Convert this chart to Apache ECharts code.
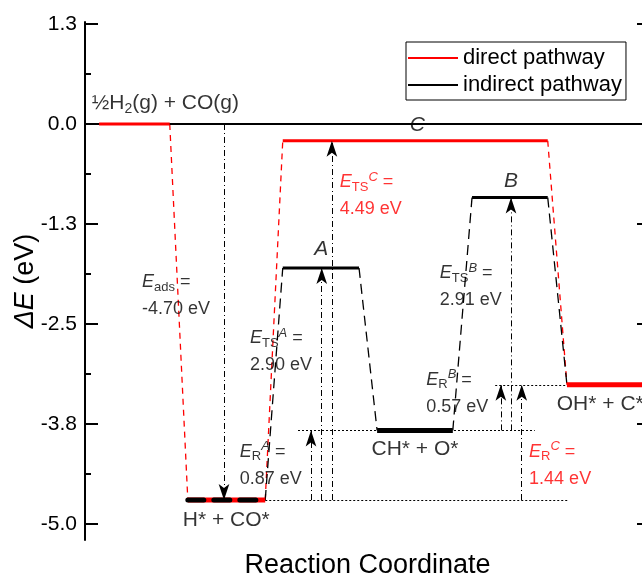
<!DOCTYPE html>
<html>
<head>
<meta charset="utf-8">
<script src="https://cdn.jsdelivr.net/npm/echarts@6/dist/echarts.min.js"></script>
<style>
  html, body { margin: 0; padding: 0; background: #fff; }
  #main { width: 642px; height: 576px; }
</style>
</head>
<body>
<div id="main"></div>
<script>
// energy levels (eV) and their extent along the reaction coordinate
const levelEnergy = [0.0, -4.70, -1.80, -3.83, -0.92, -0.21, -3.26];
const levelStart = [0.25, 1.82, 3.50, 5.17, 6.85, 3.50, 8.53];
const levelEnd = [1.50, 3.19, 4.85, 6.51, 8.19, 8.19, 10.0];
const stateText = ['{n|½H}{s|2}{n|(g) + CO(g)}', 'H* + CO*', '{i|A}', 'CH* + O*', '{i|B}', '{i|C}', 'OH* + C*'];
const directPath = [0, 1, 5, 6];
const indirectPath = [1, 2, 3, 4, 6];

// energy differences, drawn as arrows between two levels
const barrierSub = ['ads', 'TS', 'R', 'TS', 'TS', 'R', 'R'];
const barrierSup = ['', 'A', 'A', 'C', 'B', 'B', 'C'];
const barrierValues = [-4.70, 2.90, 0.87, 4.49, 2.91, 0.57, 1.44];
const barrierFrom = [0, 1, 1, 1, 3, 3, 1];
const barrierTo = [1, 2, 3, 5, 4, 6, 6];
const barrierX = [2.46, 4.19, 4.00, 4.37, 7.54, 7.36, 7.73];

// dotted guide lines: level index and extent
const guideLevel = [0, 1, 3, 6];
const guideFrom = [1.50, 3.19, 3.77, 7.26];
const guideTo = [2.74, 8.55, 7.96, 8.53];

// y axis ticks
const yTicks = [-5.0, -3.75, -2.5, -1.25, 0, 1.25];
const yMinorTicks = [-4.375, -3.125, -1.875, -0.625, 0.625];

const RED = '#ff0000';
const FONT = 'Liberation Sans, Arial, sans-serif';

// where the text sits (reaction coordinate, eV)
const statePos = [[0.12, 0.26], [2.50, -4.95], [4.18, -1.56], [5.84, -4.06], [7.54, -0.71], [5.88, -0.01], [8.35, -3.50]];
const barrierPos = [[1.01, -2.17], [2.92, -2.87], [2.74, -4.29], [4.51, -0.92], [6.28, -2.06], [6.04, -3.39], [7.86, -4.29]];
const barrierRed = [false, false, false, true, false, false, true];

function richFor(color) {
  return {
    e: { fontStyle: 'italic', fontSize: 18, lineHeight: 23, color: color, fontFamily: FONT },
    b: { fontSize: 13, lineHeight: 14, verticalAlign: 'bottom', color: color, fontFamily: FONT },
    p: { fontSize: 13, lineHeight: 14, verticalAlign: 'top', fontStyle: 'italic', color: color, fontFamily: FONT },
    q: { fontSize: 18, lineHeight: 23, color: color, fontFamily: FONT },
    n2: { fontSize: 18, lineHeight: 31, color: color, fontFamily: FONT }
  };
}

const chart = echarts.init(document.getElementById('main'));
const series = [];

// legend entries
series.push({ name: 'direct pathway', type: 'line', data: [], color: RED, symbol: 'none' });
series.push({ name: 'indirect pathway', type: 'line', data: [], color: '#000', symbol: 'none' });

function seg(data, color, width, type, cap) {
  series.push({
    type: 'line', data: data, symbol: 'none', silent: true, z: 3,
    lineStyle: { color: color, width: width, type: type || 'solid', cap: cap || 'butt' }
  });
}

// connectors between levels
function connect(path, color, dash) {
  for (let k = 0; k < path.length - 1; k++) {
    const a = path[k], b = path[k + 1];
    seg([[levelEnd[a], levelEnergy[a]], [levelStart[b], levelEnergy[b]]], color, 1.3, dash);
  }
}
connect(directPath, RED, [6, 5]);
connect(indirectPath, '#000', [10, 6]);

// levels
const levelWidth = [3, 5, 3, 5, 3, 3, 5];
levelEnergy.forEach(function (e, i) {
  const isDirect = directPath.indexOf(i) >= 0;
  const isIndirect = indirectPath.indexOf(i) >= 0;
  const data = [[levelStart[i], e], [levelEnd[i], e]];
  if (isDirect) seg(data, RED, levelWidth[i]);
  if (isIndirect && !isDirect) seg(data, '#000', levelWidth[i]);
  if (isIndirect && isDirect && i === 1) {
    seg(data, '#000', levelWidth[i], [16, 10], 'round');
    series[series.length - 1].z = 4;
  }
});

// guide lines and arrows
series.push({
  type: 'line', data: [], silent: true,
  markLine: {
    silent: true, animation: false, symbol: ['none', 'none'],
    label: { show: false },
    lineStyle: { color: '#000', width: 1, type: [2, 2] },
    data: guideLevel.map(function (l, i) {
      return [{ coord: [guideFrom[i], levelEnergy[l]] }, { coord: [guideTo[i], levelEnergy[l]] }];
    })
  }
});
series.push({
  type: 'line', data: [], silent: true,
  markLine: {
    silent: true, animation: false, symbol: ['none', 'arrow'], symbolSize: [8, 16],
    label: { show: false },
    lineStyle: { color: '#000', width: 1, type: [6, 3, 1, 3] },
    data: barrierX.map(function (x, i) {
      return [{ coord: [x, levelEnergy[barrierFrom[i]]] }, { coord: [x, levelEnergy[barrierTo[i]]] }];
    })
  }
});

// state labels
series.push({
  type: 'scatter', symbolSize: 0, silent: true, z: 10,
  data: stateText.map(function (t, i) {
    return {
      value: statePos[i],
      label: {
        show: true, formatter: t,
        position: (i === 0 || i === 6) ? 'right' : 'inside',
        distance: 0, color: '#000', fontSize: 21, fontFamily: FONT,
        rich: {
          n: { fontSize: 21, lineHeight: 26, fontFamily: FONT, color: '#000' },
          s: { fontSize: 14, lineHeight: 15, verticalAlign: 'bottom', fontFamily: FONT, color: '#000' },
          i: { fontSize: 21, fontStyle: 'italic', fontFamily: FONT, color: '#000' }
        }
      }
    };
  })
});

// barrier labels
series.push({
  type: 'scatter', symbolSize: 0, silent: true, z: 10,
  data: barrierValues.map(function (v, i) {
    const color = barrierRed[i] ? RED : '#000';
    let t = '{e|E}{b|' + barrierSub[i] + '}';
    if (barrierSup[i]) t += '{p|' + barrierSup[i] + '}';
    t += '{q| =}\n{n2|' + v.toFixed(2) + ' eV}';
    return {
      value: barrierPos[i],
      label: {
        show: true, formatter: t, position: 'right', distance: 0,
        color: color, fontFamily: FONT, rich: richFor(color)
      }
    };
  })
});

const axisLine = { show: true, lineStyle: { color: '#000', width: 2 } };

chart.setOption({
  animation: false,
  backgroundColor: '#fff',
  textStyle: { fontFamily: FONT },
  grid: { left: 85, top: 22, width: 565, height: 518, containLabel: false, outerBoundsMode: 'none' },
  legend: {
    data: ['direct pathway', 'indirect pathway'],
    orient: 'vertical', left: 406, top: 42,
    icon: 'rect', itemWidth: 50, itemHeight: 2, itemGap: 5,
    padding: [5, 4, 4, 2],
    borderColor: '#000', borderWidth: 1,
    selectedMode: false,
    textStyle: { fontSize: 22, color: '#000', fontFamily: FONT }
  },
  xAxis: [{
    type: 'value', min: 0, max: 10, position: 'bottom',
    name: 'Reaction Coordinate', nameLocation: 'middle', nameGap: 12, nameMoveOverlap: false,
    nameTextStyle: { fontSize: 27, color: '#000', fontFamily: FONT },
    axisLine: axisLine, axisTick: { show: false }, axisLabel: { show: false }, splitLine: { show: false }
  }, {
    type: 'value', min: 0, max: 10, position: 'top',
    axisLine: axisLine, axisTick: { show: false }, axisLabel: { show: false }, splitLine: { show: false }
  }],
  yAxis: [{
    type: 'value', min: -5.2, max: 1.275, position: 'left',
    name: '{i|ΔE} (eV)', nameLocation: 'middle', nameGap: 46, nameMoveOverlap: false,
    nameTextStyle: {
      fontSize: 27, color: '#000', fontFamily: FONT,
      rich: { i: { fontSize: 27, fontStyle: 'italic', color: '#000', fontFamily: FONT } }
    },
    axisLine: axisLine,
    axisTick: { show: true, inside: true, length: 13, lineStyle: { width: 2, color: '#000' }, customValues: yTicks },
    axisLabel: {
      show: true, margin: 8, fontSize: 21, color: '#000', fontFamily: FONT, customValues: yTicks,
      formatter: function (v) { return v.toFixed(1); }
    },
    splitLine: { show: false }
  }, {
    type: 'value', min: -5.2, max: 1.275, position: 'left',
    axisLine: { show: false },
    axisTick: { show: true, inside: true, length: 6, lineStyle: { width: 2, color: '#000' }, customValues: yMinorTicks },
    axisLabel: { show: false }, splitLine: { show: false }
  }, {
    type: 'value', min: -5.2, max: 1.275, position: 'right',
    axisLine: axisLine,
    axisTick: { show: true, inside: true, length: 13, lineStyle: { width: 2, color: '#000' }, customValues: yTicks },
    axisLabel: { show: false }, splitLine: { show: false }
  }],
  series: series
});
</script>
</body>
</html>
